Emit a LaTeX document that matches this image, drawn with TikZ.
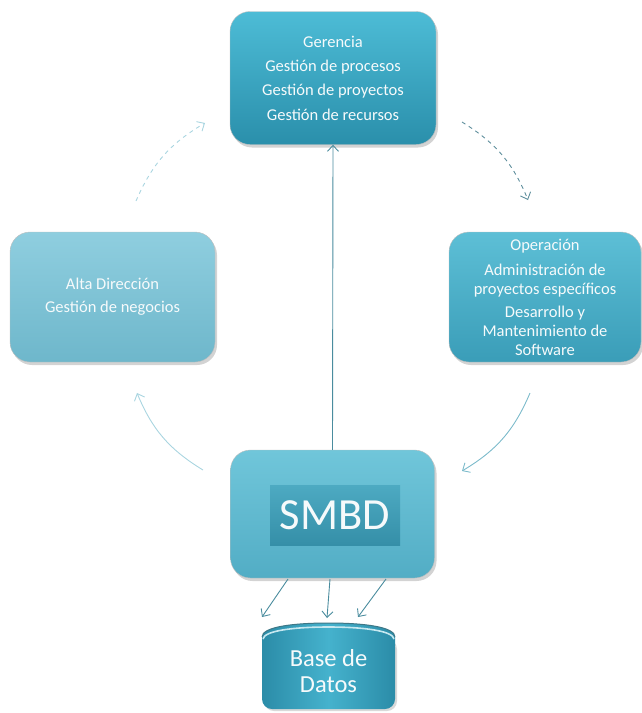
\documentclass[tikz,border=0pt]{standalone}
\usepackage{fontspec}
\setmainfont{Carlito}
\usetikzlibrary{arrows.meta,shadows}

\definecolor{gerTop}{HTML}{4DBCD6}
\definecolor{gerBot}{HTML}{2A8FAB}
\definecolor{opTop}{HTML}{5DBFD6}
\definecolor{opBot}{HTML}{3A9DB8}
\definecolor{altaTop}{HTML}{8FCEDF}
\definecolor{altaBot}{HTML}{6EB7CB}
\definecolor{smTop}{HTML}{70C6DA}
\definecolor{smBot}{HTML}{52ADC5}
\definecolor{smInTop}{HTML}{4DAAC2}
\definecolor{smInBot}{HTML}{358FA8}
\definecolor{cylMid}{HTML}{45B2CD}
\definecolor{cylEdge}{HTML}{2B8CA8}
\definecolor{txt}{HTML}{F6FAFB}
\definecolor{arrDark}{HTML}{4A8C9E}
\definecolor{arrMid}{HTML}{7CBBCB}
\definecolor{arrLight}{HTML}{A9D5E0}
\definecolor{dashDark}{HTML}{5E8E9C}

\tikzset{
  card/.style={rounded corners=20pt, draw=white!75!black, line width=0.4pt,
    align=center, text=txt, inner sep=4pt,
    drop shadow={opacity=0.35, shadow xshift=2pt, shadow yshift=-3pt}},
  cylshade/.style={left color=cylEdge, right color=cylEdge, middle color=cylMid},
  link/.style={-{Straight Barb[length=6pt,width=11pt]}, line width=0.9pt},
  loop/.style={link, bend left=18},
}

\begin{document}
\begin{tikzpicture}[x=1pt, y=-1pt]
  \useasboundingbox (0,0) rectangle (642,713);

  % database cylinder: body with its label, then the lid on top
  \node[cylshade, rounded corners=10pt, align=center, text=txt,
        minimum width=133pt, minimum height=72pt, inner sep=0pt,
        text height=39pt, font=\fontsize{24.5}{26}\selectfont,
        drop shadow={opacity=0.3, shadow xshift=2pt, shadow yshift=-2pt}]
    (db) at (328.5,673) {Base de\\Datos};
  \path[cylshade]
    (262,646) -- (262,637)
    .. controls (262,627) and (292,623) .. (328.5,623)
    .. controls (365,623) and (395,627) .. (395,637) -- (395,646) -- cycle;
  \draw[white!70!cylMid, line width=1.6pt]
    (263,639) .. controls (264,631) and (292,627) .. (328.5,627)
    .. controls (365,627) and (393,631) .. (394,639);
  \draw[arrDark!85!black, line width=1pt]
    (262,637) .. controls (262,627) and (292,623) .. (328.5,623)
    .. controls (365,623) and (395,627) .. (395,637);

  % the four role boxes
  \node[card, top color=gerTop, bottom color=gerBot,
        minimum width=206pt, minimum height=133pt,
        font=\fontsize{16.5}{24.4}\selectfont] (ger) at (333,78)
    {Gerencia\\Gestión de procesos\\Gestión de proyectos\\Gestión de recursos};

  \node[card, top color=opTop, bottom color=opBot,
        minimum width=192pt, minimum height=130pt,
        font=\fontsize{16.5}{19}\selectfont] (op) at (545,297)
    {Operación\\[6pt]Administración de\\proyectos específicos\\[4pt]Desarrollo y\\Mantenimiento de\\Software};

  \node[card, top color=altaTop, bottom color=altaBot,
        minimum width=205pt, minimum height=130pt,
        font=\fontsize{16.5}{23}\selectfont] (alta) at (112.5,297)
    {Alta Dirección\\Gestión de negocios};

  \node[card, top color=smTop, bottom color=smBot,
        minimum width=204pt, minimum height=128pt] (smbd) at (332.5,514) {};
  \fill[top color=smInTop, bottom color=smInBot] (270,485) rectangle (400,545);
  \node[text=txt, font=\fontsize{44.5}{44.5}\selectfont] (smbdlbl) at (335,515) {SMBD};

  % anchor points of the curved links
  \coordinate (p1) at (136,201);
  \coordinate (p2) at (205,123);
  \coordinate (p3) at (462,122);
  \coordinate (p4) at (528,200);
  \coordinate (p5) at (530,393);
  \coordinate (p6) at (462,471);
  \coordinate (p7) at (203,470);
  \coordinate (p8) at (137,393);
  \coordinate (s1) at (288,579);
  \coordinate (s2) at (330,579);
  \coordinate (s3) at (386,579);
  \coordinate (d1) at (262,617);
  \coordinate (d2) at (327,618);
  \coordinate (d3) at (358,617);

  % links
  \draw[link, arrDark] (smbd.north) -- (ger.south);
  \draw[loop, arrLight, dash pattern=on 4pt off 4pt] (p1) to (p2);
  \draw[loop, dashDark, dash pattern=on 4pt off 4pt] (p3) to (p4);
  \draw[loop, arrMid] (p5) to (p6);
  \draw[loop, arrLight] (p7) to (p8);
  \draw[link, arrDark] (s1) -- (d1);
  \draw[link, arrDark] (s2) -- (d2);
  \draw[link, arrDark] (s3) -- (d3);
\end{tikzpicture}
\end{document}
